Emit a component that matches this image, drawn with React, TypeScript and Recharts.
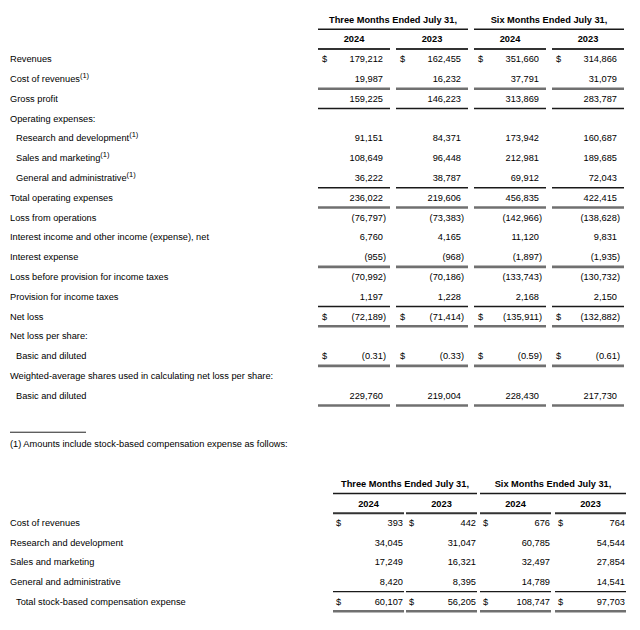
import React from "react";
import { ScatterChart, Scatter, XAxis, YAxis, ReferenceLine } from "recharts";

// ---- data ----
const PERIODS = ["Three Months Ended July 31,", "Six Months Ended July 31,"];
const YEARS = ["2024", "2023", "2024", "2023"];

const rowLabels = [
  "Revenues",
  "Cost of revenues",
  "Gross profit",
  "Operating expenses:",
  "Research and development",
  "Sales and marketing",
  "General and administrative",
  "Total operating expenses",
  "Loss from operations",
  "Interest income and other income (expense), net",
  "Interest expense",
  "Loss before provision for income taxes",
  "Provision for income taxes",
  "Net loss",
  "Net loss per share:",
  "Basic and diluted",
  "Weighted-average shares used in calculating net loss per share:",
  "Basic and diluted",
];
const noteRows = [1, 4, 5, 6];
const dollarRows = [0, 13, 15];

const q2024 = [179212, 19987, 159225, null, 91151, 108649, 36222, 236022, -76797, 6760, -955, -70992, 1197, -72189, null, -0.31, null, 229760];
const q2023 = [162455, 16232, 146223, null, 84371, 96448, 38787, 219606, -73383, 4165, -968, -70186, 1228, -71414, null, -0.33, null, 219004];
const h2024 = [351660, 37791, 313869, null, 173942, 212981, 69912, 456835, -142966, 11120, -1897, -133743, 2168, -135911, null, -0.59, null, 228430];
const h2023 = [314866, 31079, 283787, null, 160687, 189685, 72043, 422415, -138628, 9831, -1935, -130732, 2150, -132882, null, -0.61, null, 217730];

const footnote = "(1) Amounts include stock-based compensation expense as follows:";

const sbcLabels = [
  "Cost of revenues",
  "Research and development",
  "Sales and marketing",
  "General and administrative",
  "Total stock-based compensation expense",
];
const sbcDollarRows = [0, 4];
const sbcQ2024 = [393, 34045, 17249, 8420, 60107];
const sbcQ2023 = [442, 31047, 16321, 8395, 56205];
const sbcH2024 = [676, 60785, 32497, 14789, 108747];
const sbcH2023 = [764, 54544, 27854, 14541, 97703];

// ---- layout ----
const FONT = "'Liberation Sans', Arial, Helvetica, sans-serif";
const INK = "#000";
const FS = 9.25;

type Rule = { after: number; kind: "single" | "heavy" };

const MAIN = {
  height: 460,
  top: 59,
  step: 19.8,
  cols: [318, 396, 474, 552],
  colW: 72,
  dollarInset: 4,
  valueInset: 7,
  indent: [4, 5, 6, 15, 17],
  rules: [
    { after: 1, kind: "heavy" },
    { after: 2, kind: "single" },
    { after: 6, kind: "single" },
    { after: 7, kind: "heavy" },
    { after: 10, kind: "heavy" },
    { after: 12, kind: "single" },
    { after: 13, kind: "heavy" },
    { after: 15, kind: "heavy" },
    { after: 17, kind: "heavy" },
  ] as Rule[],
};

const SBC = {
  height: 170,
  top: 63,
  step: 19.6,
  cols: [333, 406, 480, 555],
  colW: 71,
  dollarInset: 3,
  valueInset: 1,
  indent: [4],
  rules: [
    { after: 3, kind: "single" },
    { after: 4, kind: "heavy" },
  ] as Rule[],
};

const fmt = (v: number) => {
  const a = Math.abs(v);
  const s = Number.isInteger(a) ? a.toLocaleString("en-US") : a.toFixed(2);
  return v < 0 ? `(${s})` : s;
};

const ruleStyle = {
  single: { stroke: "#1a1a1a", strokeWidth: 1.4 },
  heavy: { stroke: "#707070", strokeWidth: 2.6 },
};

function Cell(props: any) {
  const { cx, cy, payload } = props;
  if (cx == null || cy == null) return null;
  return (
    <text
      x={cx}
      y={cy}
      dy="0.35em"
      textAnchor={payload.anchor}
      fontSize={FS}
      fontWeight={payload.bold ? 700 : 400}
      fontFamily={FONT}
      fill={INK}
    >
      {payload.t}
      {payload.note ? (
        <tspan fontSize={7.5} dy={-4}>
          (1)
        </tspan>
      ) : null}
    </text>
  );
}

type TableProps = {
  cfg: typeof MAIN;
  labels: string[];
  series: (number | null)[][];
  dollars: number[];
  notes: number[];
  children?: React.ReactNode;
  extra?: any[];
};

function FinTable({ cfg, labels, series, dollars, notes, children, extra = [] }: TableProps) {
  const d0 = -cfg.top / cfg.step;
  const d1 = d0 + cfg.height / cfg.step;
  const ends = cfg.cols.map((c) => c + cfg.colW);
  const groups = [
    [cfg.cols[0], ends[1]],
    [cfg.cols[2], ends[3]],
  ];

  const labelData = labels.map((t, r) => ({
    x: cfg.indent.includes(r) ? 16 : 10,
    y: r,
    t,
    note: notes.includes(r),
    anchor: "start",
  }));
  const headData = PERIODS.map((t, i) => ({
    x: (groups[i][0] + groups[i][1]) / 2,
    y: -2,
    t,
    bold: true,
    anchor: "middle",
  }));
  const yearData = YEARS.map((t, i) => ({
    x: cfg.cols[i] + cfg.colW / 2,
    y: -1,
    t,
    bold: true,
    anchor: "middle",
  }));
  const dollarData = cfg.cols.flatMap((c) =>
    dollars.map((r) => ({ x: c + cfg.dollarInset, y: r, t: "$", anchor: "start" }))
  );
  const valueData = series.flatMap((vals, i) =>
    vals
      .map((v, r) =>
        v == null
          ? null
          : {
              x: ends[i] - cfg.valueInset + (v < 0 ? 3 : 0),
              y: r,
              t: fmt(v),
              anchor: "end",
            }
      )
      .filter(Boolean)
  );

  return (
    <ScatterChart width={640} height={cfg.height} margin={{ top: 0, right: 0, bottom: 0, left: 0 }}>
      <XAxis type="number" dataKey="x" domain={[0, 640]} hide allowDataOverflow />
      <YAxis type="number" dataKey="y" domain={[d0, d1]} reversed hide allowDataOverflow />
      {groups.map(([a, b], i) => (
        <ReferenceLine
          key={`g${i}`}
          segment={[{ x: a, y: -1.5 }, { x: b, y: -1.5 }]}
          stroke="#1a1a1a"
          strokeWidth={1.5}
          ifOverflow="visible"
        />
      ))}
      {cfg.cols.map((c, i) => (
        <ReferenceLine
          key={`y${i}`}
          segment={[{ x: c, y: -0.5 }, { x: ends[i], y: -0.5 }]}
          stroke="#333"
          strokeWidth={2}
          ifOverflow="visible"
        />
      ))}
      {cfg.rules.flatMap((rule) =>
        cfg.cols.map((c, i) => (
          <ReferenceLine
            key={`r${rule.after}-${i}`}
            segment={[{ x: c, y: rule.after + 0.5 }, { x: ends[i], y: rule.after + 0.5 }]}
            {...ruleStyle[rule.kind]}
            ifOverflow="visible"
          />
        ))
      )}
      {children}
      <Scatter data={headData} shape={Cell} isAnimationActive={false} />
      <Scatter data={yearData} shape={Cell} isAnimationActive={false} />
      <Scatter data={labelData} shape={Cell} isAnimationActive={false} />
      <Scatter data={dollarData} shape={Cell} isAnimationActive={false} />
      <Scatter data={valueData} shape={Cell} isAnimationActive={false} />
      {extra.length ? <Scatter data={extra} shape={Cell} isAnimationActive={false} /> : null}
    </ScatterChart>
  );
}

export default function App() {
  return (
    <div style={{ position: "absolute", left: 0, top: 0, width: 640, height: 630, background: "#fff" }}>
      <FinTable
        cfg={MAIN}
        labels={rowLabels}
        series={[q2024, q2023, h2024, h2023]}
        dollars={dollarRows}
        notes={noteRows}
        extra={[{ x: 10, y: 19.45, t: footnote, anchor: "start" }]}
      >
        <ReferenceLine
          segment={[{ x: 10, y: 18.85 }, { x: 86, y: 18.85 }]}
          stroke="#222"
          strokeWidth={1}
          ifOverflow="visible"
        />
      </FinTable>
      <FinTable
        cfg={SBC}
        labels={sbcLabels}
        series={[sbcQ2024, sbcQ2023, sbcH2024, sbcH2023]}
        dollars={sbcDollarRows}
        notes={[]}
      />
    </div>
  );
}
